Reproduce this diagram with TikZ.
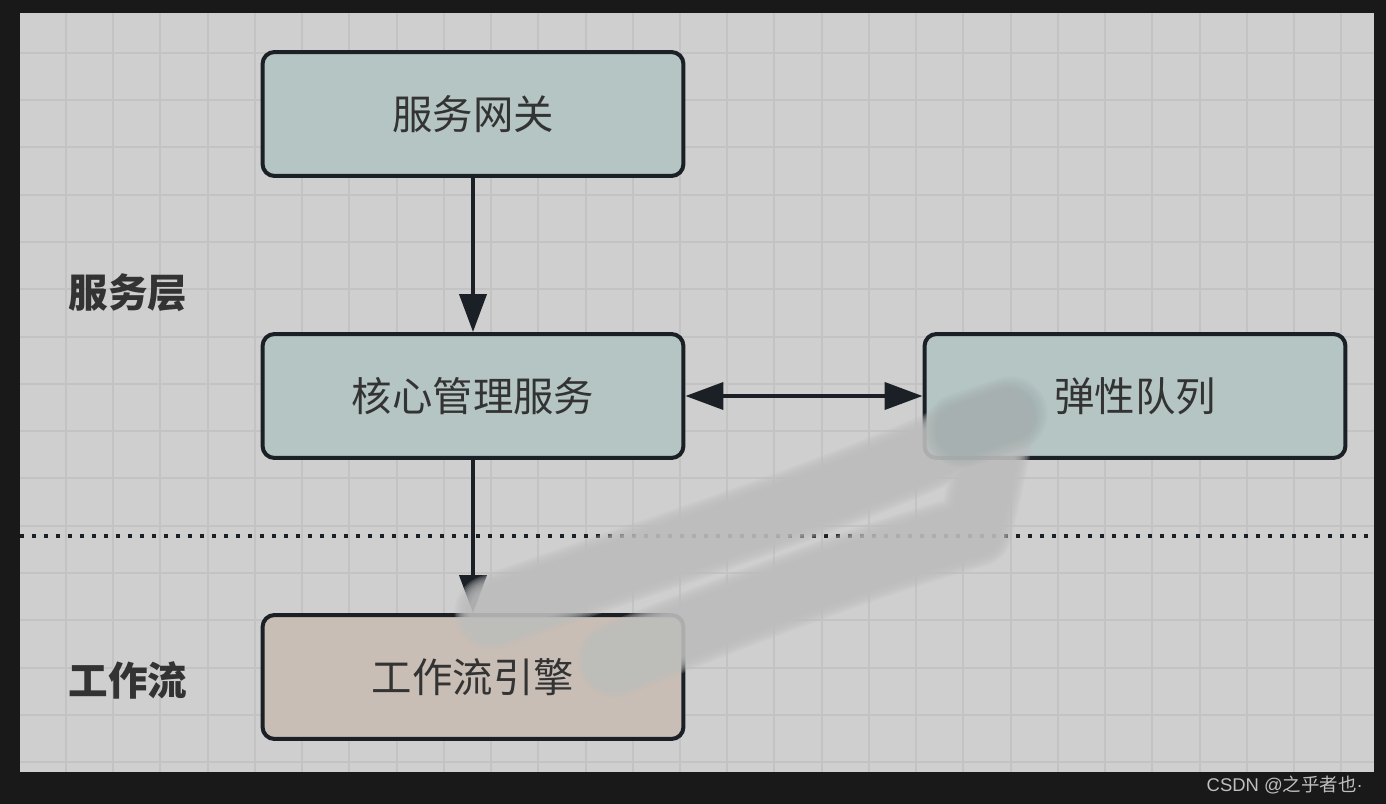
\documentclass[tikz,border=0pt]{standalone}
\usepackage{fontspec}
\newfontfamily\cjk{Noto Sans CJK SC}
\newfontfamily\latin{Liberation Sans}
\usetikzlibrary{arrows.meta}

\definecolor{frame}{HTML}{191919}
\definecolor{canvas}{HTML}{CFCFCF}
\definecolor{gridc}{HTML}{C3C3C3}
\definecolor{boxline}{HTML}{1B2026}
\definecolor{svcfill}{HTML}{B4C5C4}
\definecolor{flowfill}{HTML}{C8BEB5}
\definecolor{txt}{HTML}{333333}
\definecolor{smudge}{HTML}{BDBDBD}
\definecolor{smudgehead}{HTML}{9DAAAA}

\begin{document}
\begin{tikzpicture}[
    x=0.02cm, y=-0.02cm,
    box/.style={rectangle, draw=boxline, line width=0.08cm, rounded corners=0.24cm, minimum width=8.42cm, minimum height=2.48cm, font=\cjk\fontsize{23}{27}\selectfont, text=txt},
    layer/.style={font=\cjk\bfseries\fontsize{22.5}{27}\selectfont, text=txt},
    link/.style={line width=0.08cm, draw=boxline, -{Triangle[length=0.76cm, width=0.54cm]}},
    mark text/.style={font=\fontsize{10.5}{12}\selectfont, text=gray!50, anchor=east}
]
% Frame and canvas
\fill[frame] (0,0) rectangle (1386,804);
\fill[canvas] (20,13) rectangle (1374,772);
\foreach \i in {0,...,27}
  \draw[gridc, line width=0.04cm] ({66+47.23*\i},13) -- ({66+47.23*\i},772);
\foreach \j in {0,...,15}
  \draw[gridc, line width=0.04cm] (20,{52.7+47.3*\j}) -- (1374,{52.7+47.3*\j});

% Layer separator
\draw[boxline, line width=0.08cm, dash pattern=on 0.08cm off 0.16cm] (20,536) -- (1374,536);

% Layer labels
\node[layer] (svclayer) at (128,293) {服务层};
\node[layer] (flowlayer) at (128,680) {工作流};

% Boxes
\node[box, fill=svcfill] (gateway) at (473,114) {服务网关};
\node[box, fill=svcfill] (core) at (473,396) {核心管理服务};
\node[box, fill=svcfill] (queue) at (1135,396) {弹性队列};
\node[box, fill=flowfill] (engine) at (473,677) {工作流引擎};

% Connections
\draw[link] (gateway.south) -- (core.north);
\draw[link, {Triangle[length=0.76cm, width=0.54cm]}-{Triangle[length=0.76cm, width=0.54cm]}] (core.east) -- (queue.west);
\draw[link] (core.south) -- (engine.north);

% Smudge
\foreach \w in {1.5,1.44,...,0.9}
  \draw[smudge, line width=\w cm, line cap=round, line join=round, opacity=0.2]
    (492,612) .. controls (620,565) and (850,495) .. (1000,420)
    -- (975,530) .. controls (850,565) and (700,625) .. (615,660);
\foreach \w in {1.5,1.42,...,1.0}
  \draw[smudgehead, line width=\w cm, line cap=round, opacity=0.12]
    (962,430) -- (1010,414);

% Watermark
\node[mark text] (mark) at (1369,785) {\latin CSDN @\cjk 之乎者也\latin ·};
\end{tikzpicture}
\end{document}
